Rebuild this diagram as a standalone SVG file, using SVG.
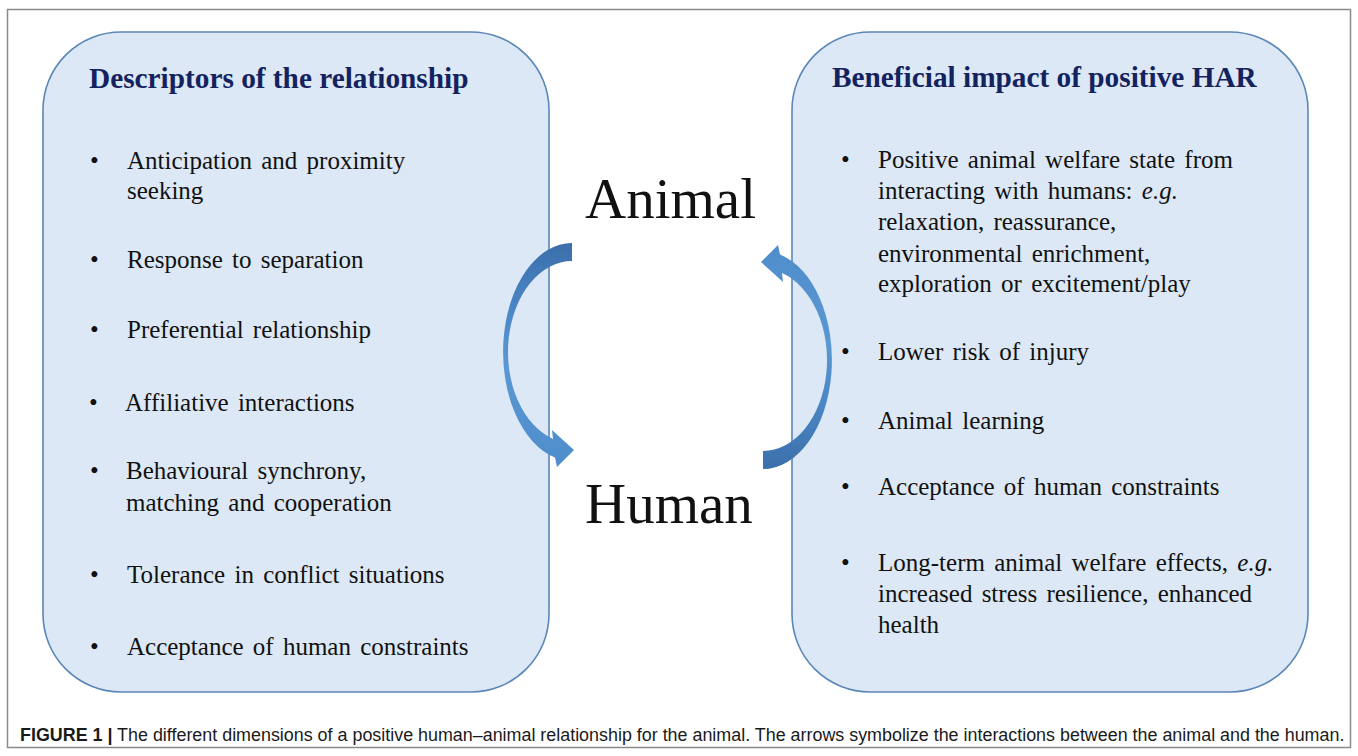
<svg xmlns="http://www.w3.org/2000/svg" width="1358" height="756" viewBox="0 0 1358 756">
  <style>
    .frame { fill: #ffffff; stroke: #8a8a8a; stroke-width: 1.5; }
    .box { fill: #dce8f5; stroke: #5b87b8; stroke-width: 1.6; }
    .title { font-family: "Liberation Serif", "Times New Roman", serif; font-weight: bold; font-size: 29.3px; fill: #14235f; }
    .item { font-family: "Liberation Serif", "Times New Roman", serif; font-size: 25px; fill: #111111; word-spacing: 3px; }
    .bullet { font-family: "Liberation Serif", "Times New Roman", serif; font-size: 25px; fill: #111111; }
    .big { font-family: "Liberation Serif", "Times New Roman", serif; font-size: 57px; fill: #111111; }
    .caption { font-family: "Liberation Sans", Arial, sans-serif; font-size: 18.5px; fill: #1a1a1a; }
    .caption .b { font-weight: bold; }
    .em { font-style: italic; }
  </style>
  <defs>
    <linearGradient id="arrowGrad" gradientUnits="userSpaceOnUse" x1="0" y1="243" x2="0" y2="470">
      <stop offset="0" stop-color="#3b6fab"/>
      <stop offset="0.28" stop-color="#4a86c4"/>
      <stop offset="0.55" stop-color="#5a98d3"/>
      <stop offset="1" stop-color="#4f8ccb"/>
    </linearGradient>
    <path id="curvedArrow" d="M572,243 A69,109 0 0,0 555,457.6 L557,467 L574,450 L552,430 L553,438.9 A64,91 0 0,1 572,261 Z" fill="url(#arrowGrad)"/>
  </defs>

  <rect class="frame" x="7.5" y="9.5" width="1343" height="738"/>

  <g id="node-descriptors">
    <rect class="box" x="43" y="32" width="506" height="660" rx="78" ry="78"/>
    <text class="title" x="89" y="88">Descriptors of the relationship</text>
    <text class="bullet" x="90" y="169">•</text>
    <text class="item" x="127" y="169">Anticipation and proximity</text>
    <text class="item" x="127" y="199">seeking</text>
    <text class="bullet" x="90" y="268">•</text>
    <text class="item" x="127" y="268">Response to separation</text>
    <text class="bullet" x="90" y="338">•</text>
    <text class="item" x="127" y="338">Preferential relationship</text>
    <text class="bullet" x="89" y="411">•</text>
    <text class="item" x="125" y="411">Affiliative interactions</text>
    <text class="bullet" x="90" y="479">•</text>
    <text class="item" x="126" y="479">Behavioural synchrony,</text>
    <text class="item" x="126" y="511">matching and cooperation</text>
    <text class="bullet" x="90" y="583">•</text>
    <text class="item" x="127" y="583">Tolerance in conflict situations</text>
    <text class="bullet" x="90" y="655">•</text>
    <text class="item" x="127" y="655">Acceptance of human constraints</text>
  </g>

  <g id="node-impact">
    <rect class="box" x="792" y="32" width="516" height="660" rx="78" ry="78"/>
    <text class="title" x="832" y="87">Beneficial impact of positive HAR</text>
    <text class="bullet" x="841" y="168">•</text>
    <text class="item" x="878" y="168">Positive animal welfare state from</text>
    <text class="item" x="878" y="199">interacting with humans: <tspan class="em">e.g.</tspan></text>
    <text class="item" x="878" y="230">relaxation, reassurance,</text>
    <text class="item" x="878" y="262">environmental enrichment,</text>
    <text class="item" x="878" y="292">exploration or excitement/play</text>
    <text class="bullet" x="841" y="360">•</text>
    <text class="item" x="878" y="360">Lower risk of injury</text>
    <text class="bullet" x="841" y="429">•</text>
    <text class="item" x="878" y="429">Animal learning</text>
    <text class="bullet" x="841" y="495">•</text>
    <text class="item" x="878" y="495">Acceptance of human constraints</text>
    <text class="bullet" x="841" y="571">•</text>
    <text class="item" x="878" y="571">Long-term animal welfare effects, <tspan class="em">e.g.</tspan></text>
    <text class="item" x="878" y="602">increased stress resilience, enhanced</text>
    <text class="item" x="878" y="633">health</text>
  </g>

  <g id="node-animal">
    <text class="big" x="585" y="218">Animal</text>
  </g>
  <g id="node-human">
    <text class="big" x="585" y="523">Human</text>
  </g>

  <g id="connectors">
    <use href="#curvedArrow"/>
    <use href="#curvedArrow" transform="rotate(180 667.5 356)"/>
  </g>

  <g id="caption" transform="translate(20 741) scale(0.88 1)">
    <text class="caption" x="0" y="0" textLength="1505" lengthAdjust="spacingAndGlyphs"><tspan class="b">FIGURE 1 |</tspan> The different dimensions of a positive human–animal relationship for the animal. The arrows symbolize the interactions between the animal and the human.</text>
  </g>
</svg>
